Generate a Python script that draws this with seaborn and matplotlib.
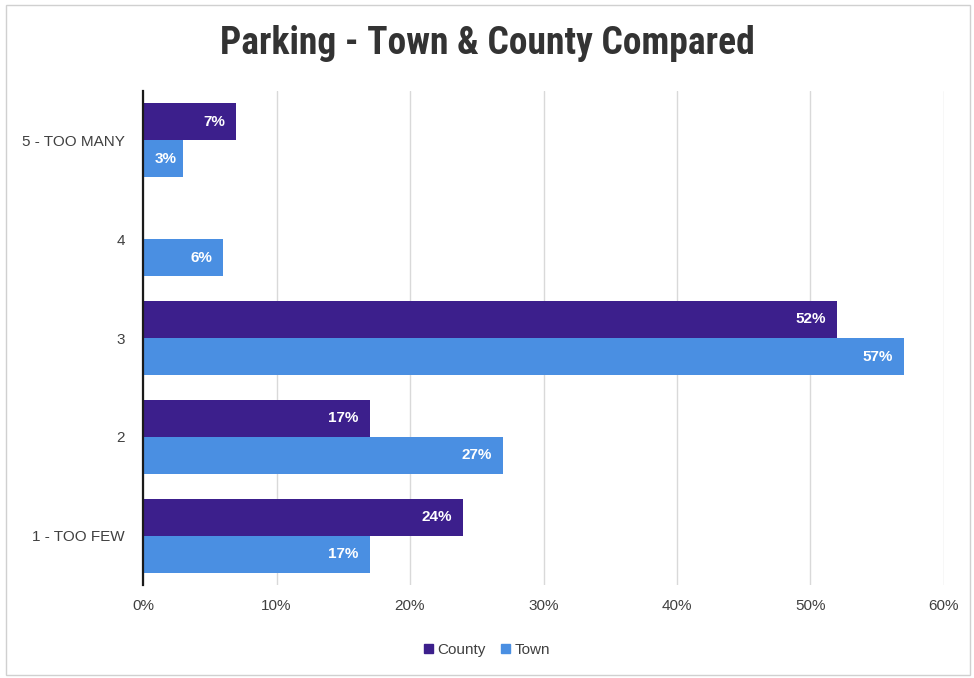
import matplotlib
matplotlib.use("Agg")
import matplotlib.pyplot as plt
from matplotlib import font_manager
from matplotlib.patches import Rectangle
import seaborn as sns
import pandas as pd
import numpy as np

categories = ["5 - TOO MANY", "4", "3", "2", "1 - TOO FEW"]
county = [7, np.nan, 52, 17, 24]
town = [3, 6, 57, 27, 17]
series_names = ["County", "Town"]
x_ticks = [0, 10, 20, 30, 40, 50, 60]

colors = {"County": "#3c1f8c", "Town": "#4a8fe2"}

df = pd.DataFrame({
    "category": categories * 2,
    "value": county + town,
    "series": [series_names[0]] * len(categories) + [series_names[1]] * len(categories),
})

sns.set_theme(style="white")
plt.rcParams["font.family"] = ["Liberation Sans", "DejaVu Sans"]

installed = {f.name for f in font_manager.fontManager.ttflist}
title_family = "Roboto"
for cand in ["Roboto Condensed", "Liberation Sans Narrow", "Open Sans Condensed", "DejaVu Sans Condensed"]:
    if cand in installed:
        title_family = cand
        break

fig = plt.figure(figsize=(9.74, 6.78), dpi=100)
ax = fig.add_axes([143 / 974, 1 - 585 / 678, (944 - 143) / 974, (585 - 91) / 678])

sns.barplot(data=df, y="category", x="value", hue="series", order=categories,
            hue_order=series_names, palette=colors, orient="h", width=0.75,
            saturation=1, ax=ax, legend=False, edgecolor="none")

ax.set_xlim(0, 60)
ax.set_xticks(x_ticks)
ax.set_xticklabels([f"{t}%" for t in x_ticks], fontsize=11, color="#404040")
ax.tick_params(axis="y", labelsize=11, labelcolor="#404040", length=0, pad=13)
ax.tick_params(axis="x", length=0, pad=10)
ax.set_xlabel("")
ax.set_ylabel("")
ax.grid(axis="x", color="#d9d9d9", linewidth=1)
ax.set_axisbelow(True)
for s in ["top", "right", "bottom"]:
    ax.spines[s].set_visible(False)
ax.spines["left"].set_color("#1a1a1a")
ax.spines["left"].set_linewidth(1.6)
ax.spines["left"].set_zorder(5)

px_per_unit = (944 - 143) / 60
for container in ax.containers:
    for bar in container:
        w = bar.get_width()
        if np.isnan(w) or w <= 0:
            continue
        y = bar.get_y() + bar.get_height() / 2
        if w * px_per_unit < 55:
            ax.annotate(f"{w:.0f}%", (w / 2, y), xytext=(2, 0), textcoords="offset points",
                        ha="center", va="center", color="white",
                        fontsize=11, fontweight="bold")
        else:
            ax.annotate(f"{w:.0f}%", (w, y), xytext=(-8, 0), textcoords="offset points",
                        ha="right", va="center", color="white",
                        fontsize=11, fontweight="bold")

fig.text(0.5, 1 - 44 / 678, "Parking - Town & County Compared",
         ha="center", va="center", fontsize=27, fontweight="bold",
         color="#333333", family=[title_family, "DejaVu Sans"])

handles = [Rectangle((0, 0), 1, 1, color=colors[n]) for n in series_names]
fig.legend(handles, series_names, loc="center", bbox_to_anchor=(0.5, 1 - 650 / 678),
           ncol=2, frameon=False, fontsize=11, handlelength=0.6, handleheight=0.6,
           handletextpad=0.3, columnspacing=1.0, labelcolor="#404040")

fig.patches.append(Rectangle((6 / 974, 3 / 678), 964 / 974, 670 / 678,
                             transform=fig.transFigure, fill=False,
                             edgecolor="#d0d0d0", linewidth=1))

fig.savefig("out.png", dpi=100)
